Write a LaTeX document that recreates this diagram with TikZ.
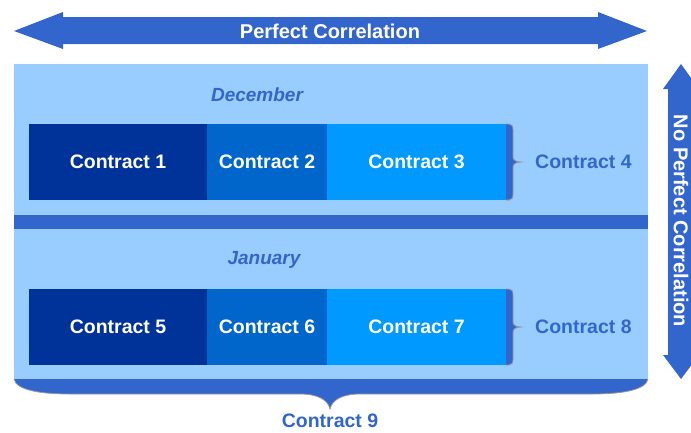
\documentclass[tikz,border=0pt]{standalone}
\usepackage{fontspec}
\setmainfont{Liberation Sans}
\usetikzlibrary{positioning}

\definecolor{bandblue}{HTML}{3366CC}
\definecolor{paleblue}{HTML}{99CCFF}
\definecolor{navyc}{HTML}{003399}
\definecolor{midc}{HTML}{0066CC}
\definecolor{skyc}{HTML}{0099FF}
\definecolor{braceline}{HTML}{999999}

\tikzset{
  box/.style={minimum height=76pt, inner sep=0pt, outer sep=0pt,
    text=white, font=\fontsize{19.5}{22}\selectfont\bfseries},
  lbl/.style={inner sep=0pt, text=bandblue, font=\fontsize{19.5}{22}\selectfont\bfseries},
  month/.style={inner sep=0pt, text=bandblue, font=\fontsize{19}{22}\selectfont\bfseries\itshape},
  arrowtext/.style={inner sep=0pt, text=white, font=\fontsize{20}{22}\selectfont\bfseries},
  brace/.style={fill=bandblue, draw=braceline, line width=0.8pt},
}

\begin{document}
\begin{tikzpicture}[x=1pt, y=-1pt]
  \useasboundingbox (0,0) rectangle (691,432);

  \fill[bandblue] (14,31) -- (63,12) -- (63,17) -- (598,17) -- (598,12) -- (647,31)
    -- (598,49) -- (598,44) -- (63,44) -- (63,49) -- cycle;
  \node[arrowtext] (pc) at (330,31) {Perfect Correlation};

  \fill[bandblue] (681,64) -- (699,89) -- (694,89) -- (694,355) -- (699,355) -- (681,379)
    -- (663,355) -- (668,355) -- (668,89) -- (663,89) -- cycle;
  \node[arrowtext, rotate=-90] (npc) at (681,221) {No Perfect Correlation};

  \fill[paleblue] (14,64) rectangle (648,379);
  \fill[bandblue] (14,215) rectangle (648,229);

  \filldraw[brace] (14,379) .. controls (16,390) and (40,394) .. (70,394) -- (300,394)
    .. controls (318,394) and (328,400) .. (330,409)
    .. controls (332,400) and (342,394) .. (360,394) -- (592,394)
    .. controls (622,394) and (646,390) .. (648,379);
  \node[lbl] (c9) at (330,421) {Contract 9};

  \node[month] (dec) at (257,95) {December};
  \node[box, fill=navyc, minimum width=178pt, anchor=north west] (c1) at (29,124) {Contract 1};
  \node[box, fill=midc, minimum width=120pt, right=0pt of c1] (c2) {Contract 2};
  \node[box, fill=skyc, minimum width=179pt, right=0pt of c2] (c3) {Contract 3};
  \filldraw[brace] (c3.north east) -- ++(3,0) .. controls +(3,0) and +(0,-4) .. ++(4,6)
    -- ++(0,27) .. controls +(0,3) and +(-5,0) .. ++(8,5)
    .. controls +(-5,0) and +(0,-3) .. ++(-8,5) -- ++(0,27)
    .. controls +(0,4) and +(3,0) .. ++(-4,6) -- (c3.south east);
  \node[lbl, right=29pt of c3] (c4) {Contract 4};

  \node[month] (jan) at (264,260) {January};
  \node[box, fill=navyc, minimum width=178pt, anchor=north west] (c5) at (29,289) {Contract 5};
  \node[box, fill=midc, minimum width=120pt, right=0pt of c5] (c6) {Contract 6};
  \node[box, fill=skyc, minimum width=179pt, right=0pt of c6] (c7) {Contract 7};
  \filldraw[brace] (c7.north east) -- ++(3,0) .. controls +(3,0) and +(0,-4) .. ++(4,6)
    -- ++(0,27) .. controls +(0,3) and +(-5,0) .. ++(8,5)
    .. controls +(-5,0) and +(0,-3) .. ++(-8,5) -- ++(0,27)
    .. controls +(0,4) and +(3,0) .. ++(-4,6) -- (c7.south east);
  \node[lbl, right=29pt of c7] (c8) {Contract 8};
\end{tikzpicture}
\end{document}
